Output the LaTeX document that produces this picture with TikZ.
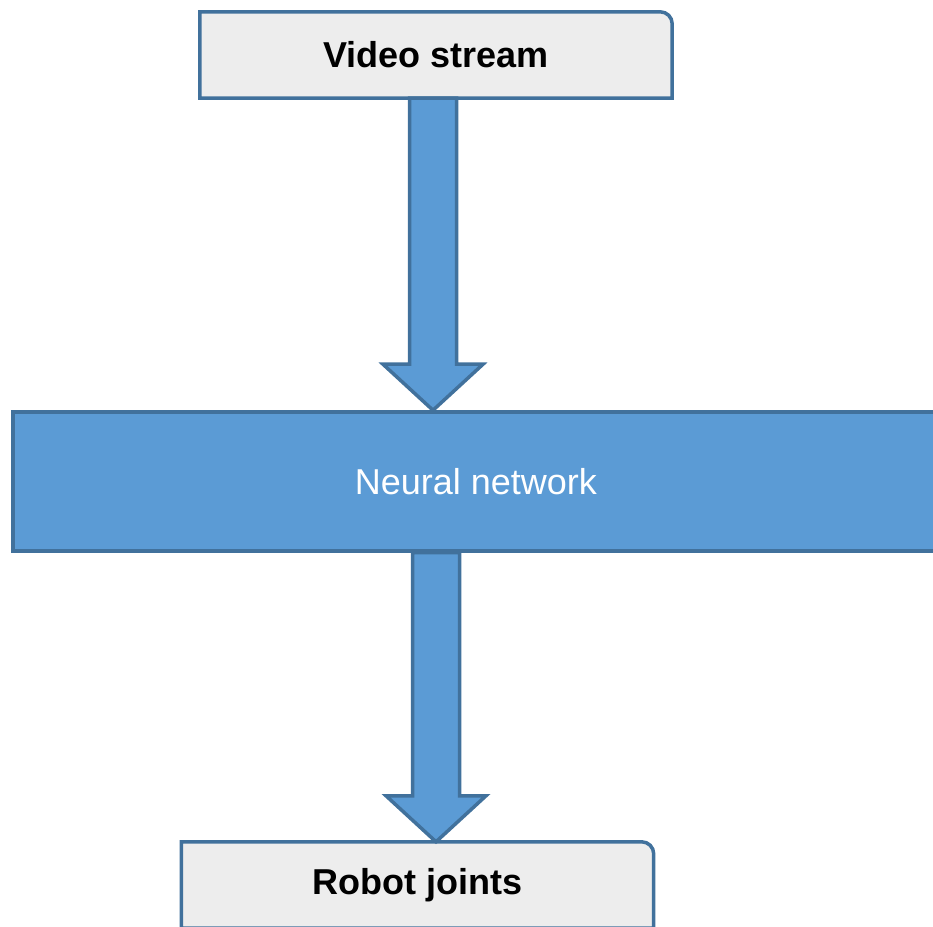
\documentclass[tikz,border=0pt]{standalone}
\usepackage{fontspec}
\setmainfont{Liberation Sans}
\usetikzlibrary{backgrounds,calc}

\definecolor{netblue}{HTML}{5B9BD5}
\definecolor{edgeblue}{HTML}{41719C}
\definecolor{panelgray}{HTML}{EDEDED}

% thick block arrow: #1 start node anchor, #2 tip node anchor, #3 x shift
\newcommand{\fatarrow}[3]{%
  \draw[fat arrow] let \p1=($(#1)+(#3,0)$), \p2=(#2) in
    (\x1-23.5pt,\y1) -- (\x1-23.5pt,\y2+46pt) -- (\x1-50pt,\y2+46pt) -- (\x1,\y2)
    -- (\x1+50pt,\y2+46pt) -- (\x1+23.5pt,\y2+46pt) -- (\x1+23.5pt,\y1) -- cycle;}

\begin{document}
\begin{tikzpicture}[x=1pt,y=1pt]
    \tikzstyle{end box}=[minimum width=472pt,minimum height=86pt,inner sep=0pt,
        font=\fontsize{36}{40}\selectfont\bfseries]
    \tikzstyle{panel}=[fill=panelgray,draw=edgeblue,line width=3.5pt]
    \tikzstyle{net box}=[draw=edgeblue,fill=netblue,line width=3.5pt,text=white,
        minimum width=926pt,minimum height=139pt,inner sep=0pt,
        font=\fontsize{36}{40}\selectfont]
    \tikzstyle{fat arrow}=[fill=netblue,draw=edgeblue,line width=3.5pt,line join=miter]

    \useasboundingbox (0,0) rectangle (933,926);
    \clip (0,0) rectangle (933,926);

    \node[end box] (video) at (436,871) {Video stream};
    \node[net box] (net)   at (476,444.5) {Neural network};
    \node[end box] (robot) at (417.5,41) {Robot joints};

    \begin{scope}[on background layer]
    \foreach \b in {video,robot}
        \draw[panel] (\b.south west) -- (\b.north west) -- ([xshift=-12pt]\b.north east)
            arc (90:0:12pt) -- (\b.south east) -- cycle;
    \end{scope}

    \fatarrow{video.south}{net.north}{-3}
    \fatarrow{net.south}{robot.north}{-40}
\end{tikzpicture}
\end{document}
